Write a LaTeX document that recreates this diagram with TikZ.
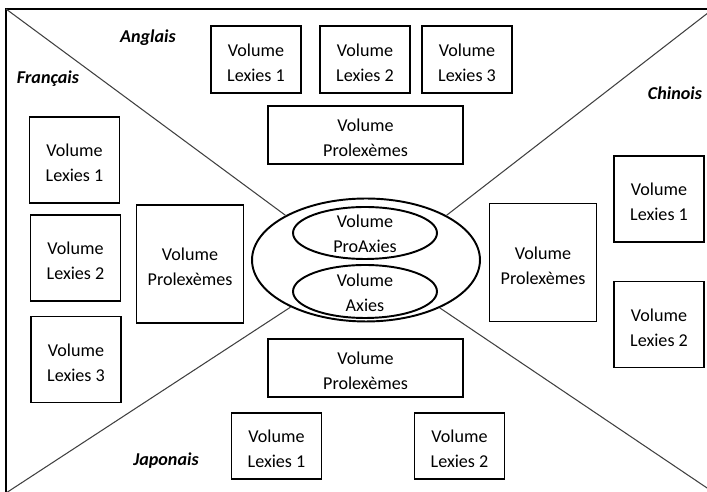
\documentclass[tikz,border=0pt]{standalone}
\usepackage{fontspec}
\setmainfont{Carlito}
\usetikzlibrary{shapes.geometric}

% 两行文字，首行加高一点
\newcommand{\vollig}[1]{\rule{0pt}{10.6pt}Volume\\#1}

\begin{document}
\begin{tikzpicture}[x=0.02cm, y=-0.02cm,
    texte/.style={align=center, inner sep=0pt, font=\fontsize{10.3}{14.2}\selectfont},
    vol/.style={texte, draw, line width=1.1pt},
    lexie/.style={vol, minimum width=1.8cm, minimum height=1.33cm},
    lexiehaute/.style={vol, minimum width=1.8cm, minimum height=1.72cm},
    prolex/.style={vol, minimum width=3.9cm, minimum height=1.16cm},
    prolexhaute/.style={vol, minimum width=2.14cm, minimum height=2.36cm},
    axie/.style={ellipse, draw, line width=1.1pt, inner sep=0pt},
    langue/.style={inner sep=0pt, font=\fontsize{10.3}{12}\selectfont\bfseries\itshape},
    trait/.style={line width=0.6pt, black!75}]
        % 画布与裁剪
        \useasboundingbox (0,0) rectangle (707,492);
        \clip (0,0) rectangle (707,492);
        \coordinate (hg) at (6,9);
        \coordinate (hd) at (713,9);
        \coordinate (bg) at (6,493);
        \coordinate (bd) at (713,492);
        \coordinate (cadre) at (720,500);
        \draw[line width=1.1pt] (hg) rectangle (cadre);

        % 中心椭圆
        \node[axie, minimum width=4.56cm, minimum height=2.46cm] (noyau) at (366,260) {};
        \node[axie, minimum width=2.88cm, minimum height=1.04cm] (proaxies) at (365,233) {};
        \node[texte] (tproaxies) at (365,234) {Volume\\ProAxies};
        \node[axie, minimum width=2.88cm, minimum height=1.06cm] (axies) at (365,291.5) {};
        \node[texte] (taxies) at (365,292.5) {Volume\\Axies};

        % 对角线
        \draw[trait] (hg) -- (noyau.151.5);
        \draw[trait] (hd) -- (noyau.29);
        \draw[trait] (bg) -- (noyau.212);
        \draw[trait] (bd) -- (noyau.327);

        % 英语
        \node[langue] (anglais) at (148,38) {Anglais};
        \node[lexie] (anl1) at (256,59.5) {\vollig{Lexies 1}};
        \node[lexie] (anl2) at (365,59.5) {\vollig{Lexies 2}};
        \node[lexie] (anl3) at (467,59.5) {\vollig{Lexies 3}};
        \node[prolex] (anpro) at (365.5,135) {\vollig{Prolexèmes}};

        % 法语
        \node[langue] (francais) at (48,79) {Français};
        \node[lexiehaute] (frl1) at (74.5,160) {\vollig{Lexies 1}};
        \node[lexiehaute] (frl2) at (75.5,258) {\vollig{Lexies 2}};
        \node[lexiehaute] (frl3) at (76,359.5) {\vollig{Lexies 3}};
        \node[prolexhaute] (frpro) at (190,264) {\vollig{Prolexèmes}};

        % 汉语
        \node[langue] (chinois) at (675,93) {Chinois};
        \node[lexiehaute] (chl1) at (659,199) {\vollig{Lexies 1}};
        \node[lexiehaute] (chl2) at (659,324.5) {\vollig{Lexies 2}};
        \node[prolexhaute] (chpro) at (543,262.5) {\vollig{Prolexèmes}};

        % 日语
        \node[langue] (japonais) at (166,461) {Japonais};
        \node[prolex] (jppro) at (365.5,368) {\vollig{Prolexèmes}};
        \node[lexie] (jpl1) at (276.5,446) {\vollig{Lexies 1}};
        \node[lexie] (jpl2) at (459.5,446) {\vollig{Lexies 2}};
      \end{tikzpicture}
\end{document}
